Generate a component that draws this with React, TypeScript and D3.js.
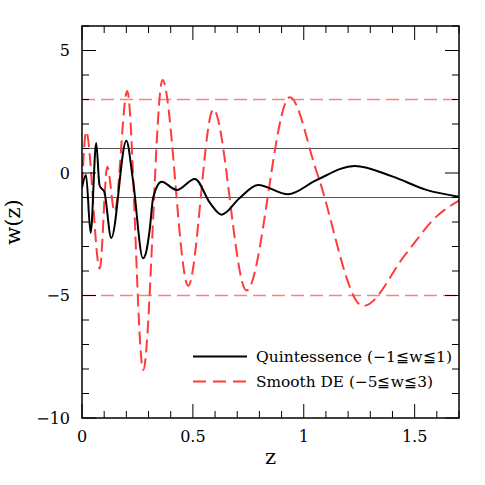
import React from 'react';
import * as d3 from 'd3';

// Quintessence (-1 <= w <= 1)
const quintZ = [0, 0.018, 0.039, 0.064, 0.079, 0.09, 0.1, 0.132, 0.2, 0.23, 0.275, 0.29, 0.305, 0.321, 0.359, 0.427, 0.509, 0.577, 0.629, 0.71, 0.794, 0.929, 1.057, 1.23, 1.402, 1.553, 1.7];
const quintW = [-0.6, -0.08, -2.45, 1.22, -0.5, -0.65, -0.75, -2.65, 1.32, -0.3, -3.48, -3.2, -2.33, -1.0, -0.36, -0.69, -0.24, -1.22, -1.7, -1.03, -0.49, -0.87, -0.29, 0.29, -0.15, -0.69, -0.97];

// Smooth DE (-5 <= w <= 3)
const smoothZ = [0, 0.019, 0.08, 0.114, 0.147, 0.204, 0.276, 0.363, 0.479, 0.592, 0.742, 0.937, 1.06, 1.267, 1.462, 1.598, 1.7];
const smoothW = [-0.5, 1.69, -3.9, 0.26, -1.58, 3.35, -8.04, 3.8, -4.6, 2.6, -4.8, 3.09, 0, -5.43, -3.28, -1.78, -1.13];

const boundsQuint = [1, -1];
const boundsSmooth = [3, -5];

const xMajor = [0, 0.5, 1, 1.5];
const xLabels = ['0', '0.5', '1', '1.5'];
const yMajor = [5, 0, -5, -10];
const yLabels = ['5', '0', '\u22125', '\u221210'];

export default function App() {
  const width = 485;
  const height = 485;
  const left = 82, right = 459, top = 26, bottom = 418;

  const x = d3.scaleLinear().domain([0, 1.7]).range([left, right]);
  const y = d3.scaleLinear().domain([-10, 6]).range([bottom, top]);

  const lineGen = d3.line<[number, number]>()
    .x(d => x(d[0]))
    .y(d => y(d[1]))
    .curve(d3.curveMonotoneX);

  const quintPath = lineGen(quintZ.map((z, i) => [z, quintW[i]] as [number, number]));
  const smoothPath = lineGen(smoothZ.map((z, i) => [z, smoothW[i]] as [number, number]));

  const xMinor = d3.range(0, 1.7001, 0.1);
  const yMinor = d3.range(-10, 6.001, 1);
  const isMajorX = (v: number) => Math.abs(v * 2 - Math.round(v * 2)) < 1e-6;
  const isMajorY = (v: number) => Math.abs(v % 5) < 1e-6;

  const red = '#ff3b3b';
  const font = '"DejaVu Serif", "Liberation Serif", serif';

  return (
    <svg width={width} height={height} style={{ position: 'absolute', left: 0, top: 0, background: '#fff' }}>
      <defs>
        <clipPath id="plot">
          <rect x={left} y={top} width={right - left} height={bottom - top} />
        </clipPath>
      </defs>

      {/* reference bounds */}
      {boundsQuint.map(v => (
        <line key={'q' + v} x1={left} x2={right} y1={y(v)} y2={y(v)} stroke="#555" strokeWidth={1.2} />
      ))}
      {boundsSmooth.map(v => (
        <line key={'s' + v} x1={left} x2={right} y1={y(v)} y2={y(v)} stroke="#ff8080" strokeWidth={1.6} strokeDasharray="13,6" />
      ))}

      <g clipPath="url(#plot)">
        <path d={smoothPath || ''} fill="none" stroke={red} strokeWidth={2} strokeDasharray="13,6" />
        <path d={quintPath || ''} fill="none" stroke="#000" strokeWidth={2} />
      </g>

      {/* frame */}
      <rect x={left} y={top} width={right - left} height={bottom - top} fill="none" stroke="#000" strokeWidth={1.5} />

      {/* ticks */}
      {xMinor.map(v => {
        const len = isMajorX(v) ? 14 : 7;
        return (
          <g key={'xt' + v}>
            <line x1={x(v)} x2={x(v)} y1={bottom} y2={bottom - len} stroke="#000" strokeWidth={1} />
            <line x1={x(v)} x2={x(v)} y1={top} y2={top + len} stroke="#000" strokeWidth={1} />
          </g>
        );
      })}
      {yMinor.map(v => {
        const len = isMajorY(v) ? 14 : 7;
        return (
          <g key={'yt' + v}>
            <line x1={left} x2={left + len} y1={y(v)} y2={y(v)} stroke="#000" strokeWidth={1} />
            <line x1={right} x2={right - len} y1={y(v)} y2={y(v)} stroke="#000" strokeWidth={1} />
          </g>
        );
      })}

      {/* tick labels */}
      {xMajor.map((v, i) => (
        <text key={'xl' + v} x={x(v)} y={442} textAnchor="middle" fontFamily={font} fontSize={16}>{xLabels[i]}</text>
      ))}
      {yMajor.map((v, i) => (
        <text key={'yl' + v} x={70} y={y(v)} dy="0.36em" textAnchor="end" fontFamily={font} fontSize={16}>{yLabels[i]}</text>
      ))}

      {/* axis titles */}
      <text x={(left + right) / 2} y={464} textAnchor="middle" fontFamily={font} fontSize={21}>z</text>
      <text transform={`translate(20,${(top + bottom) / 2}) rotate(-90)`} textAnchor="middle" fontFamily={font} fontSize={21}>w(z)</text>

      {/* legend */}
      <line x1={193} x2={247} y1={356.5} y2={356.5} stroke="#000" strokeWidth={2} />
      <text x={256} y={362} fontFamily={font} fontSize={15} textLength={196} lengthAdjust="spacingAndGlyphs">Quintessence (−1≦w≦1)</text>
      <line x1={193} x2={247} y1={381.5} y2={381.5} stroke={red} strokeWidth={2} strokeDasharray="13,7" />
      <text x={256} y={387} fontFamily={font} fontSize={15} textLength={177} lengthAdjust="spacingAndGlyphs">Smooth DE (−5≦w≦3)</text>
    </svg>
  );
}
